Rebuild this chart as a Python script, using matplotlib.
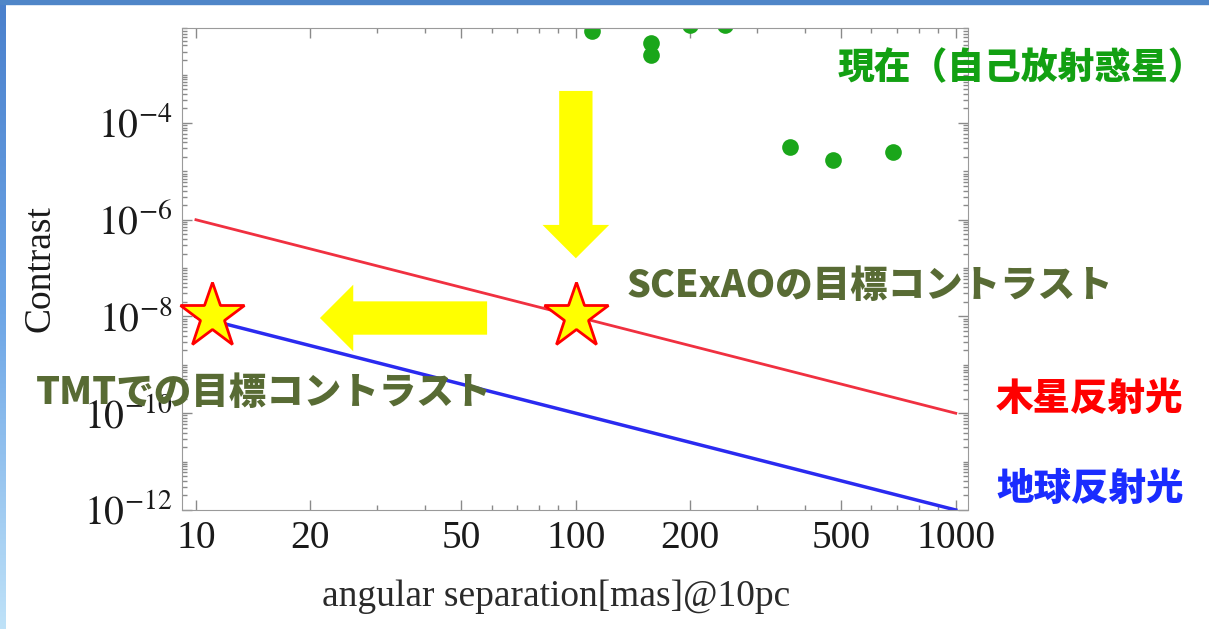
import numpy as np
import matplotlib
matplotlib.use('Agg')
import matplotlib.pyplot as plt
from matplotlib.patches import Rectangle
from matplotlib.colors import LinearSegmentedColormap
from matplotlib.ticker import FixedLocator, LogLocator, FuncFormatter, NullFormatter

plt.rcParams['font.family'] = ['Liberation Serif', 'DejaVu Serif']
plt.rcParams['mathtext.fontset'] = 'stix'

# reflected light contrast vs separation
sep_line = [10, 1000]
jupiter_contrast = [1e-6, 1e-10]
earth_contrast = [1e-8, 1e-12]

# self-luminous planets imaged so far
planet_sep = [110, 158, 158, 200, 247, 366, 474, 682]
planet_contrast = [8.0e-3, 4.5e-3, 2.5e-3, 1.06e-2, 1.06e-2, 3.2e-5, 1.7e-5, 2.5e-5]

# target contrasts (TMT, SCExAO)
goal_sep = [11, 100]
goal_contrast = [1e-8, 1e-8]

xticks = [10, 20, 50, 100, 200, 500, 1000]
yticks = [1e-12, 1e-10, 1e-8, 1e-6, 1e-4]

W, H = 1209, 629
fig = plt.figure(figsize=(W / 100, H / 100), dpi=100)

# slide frame: blue band on top, gradient band on the left
fig.add_artist(Rectangle((0, 1 - 4 / H), 1, 4 / H, transform=fig.transFigure,
                         color='#4f86c8', zorder=10))
band = fig.add_axes([0, 0, 6 / W, 1])
grad = LinearSegmentedColormap.from_list('band', ['#bfe2f8', '#6ea6e6', '#4a80cc'])
band.imshow(np.linspace(0, 1, 256)[:, None], cmap=grad, aspect='auto', origin='lower')
band.axis('off')

ax = fig.add_axes([182 / W, 1 - 510 / H, (968 - 182) / W, (510 - 28) / H])
ax.set_xscale('log')
ax.set_yscale('log')
ax.set_xlim(9.19, 1077)
ax.set_ylim(1e-12, 9.2e-3)

ax.plot(sep_line, jupiter_contrast, color='#f03040', lw=2)
ax.plot(sep_line, earth_contrast, color='#2a2af0', lw=2.5)
ax.plot(planet_sep, planet_contrast, 'o', color='#1aa61a', ms=12, mec='none')

# yellow arrows
arrow = dict(arrowstyle='simple,head_length=24,head_width=48,tail_width=24',
             mutation_scale=1, color='#ffff00', ec='none', shrinkA=0, shrinkB=0)
ax.annotate('', xy=(100, 1.6e-7), xytext=(100, 4.6e-4), arrowprops=arrow)
ax.annotate('', xy=(21.2, 9.3e-9), xytext=(58.4, 9.3e-9), arrowprops=arrow)

ax.plot(goal_sep, goal_contrast, '*', ms=49, mfc='#ffff00', mec='#ff0000', mew=2,
        zorder=5, clip_on=False)

ax.xaxis.set_major_locator(FixedLocator(xticks))
ax.xaxis.set_minor_locator(LogLocator(base=10, subs=np.arange(1, 10), numticks=100))
ax.yaxis.set_major_locator(FixedLocator(yticks))
ax.yaxis.set_minor_locator(LogLocator(base=10, subs=np.arange(1, 10), numticks=100))
ax.xaxis.set_major_formatter(FuncFormatter(lambda v, p: '%d' % round(v)))
ax.yaxis.set_major_formatter(FuncFormatter(lambda v, p: r'$\mathrm{10^{%d}}$' % round(np.log10(v))))
ax.xaxis.set_minor_formatter(NullFormatter())
ax.yaxis.set_minor_formatter(NullFormatter())

ax.tick_params(which='both', direction='in', top=True, right=True,
               color='#8a8a8a', labelcolor='#1a1a1a', labelsize=28.5, pad=7, width=1)
ax.tick_params(which='major', length=7)
ax.tick_params(which='minor', length=3.5)
for s in ax.spines.values():
    s.set_color('#9a9a9a')

ax.set_xlabel('angular separation[mas]@10pc', fontsize=27, color='#2a2a2a')
ax.set_ylabel('Contrast', fontsize=27, color='#1a1a1a')
ax.xaxis.set_label_coords(0.476, -0.145)
ax.yaxis.set_label_coords(-0.158, 0.5)

jp = dict(family=['Noto Sans CJK JP', 'DejaVu Sans'], weight='black', fontsize=27,
          ha='left', va='center')
fig.text(838 / W, 1 - 68 / H, '現在（自己放射惑星）', color='#12a012',
         **{**jp, 'fontsize': 26.5})
fig.text(627 / W, 1 - 286 / H, 'SCExAOの目標コントラスト', color='#586b34', **jp)
fig.text(36 / W, 1 - 393 / H, 'TMTでの目標コントラスト', color='#586b34', **jp)
fig.text(996 / W, 1 - 399 / H, '木星反射光', color='#ff0000', **jp)
fig.text(996 / W, 1 - 489 / H, '地球反射光', color='#1a2cff', **jp)

fig.savefig('out.png', dpi=100, facecolor='white')
